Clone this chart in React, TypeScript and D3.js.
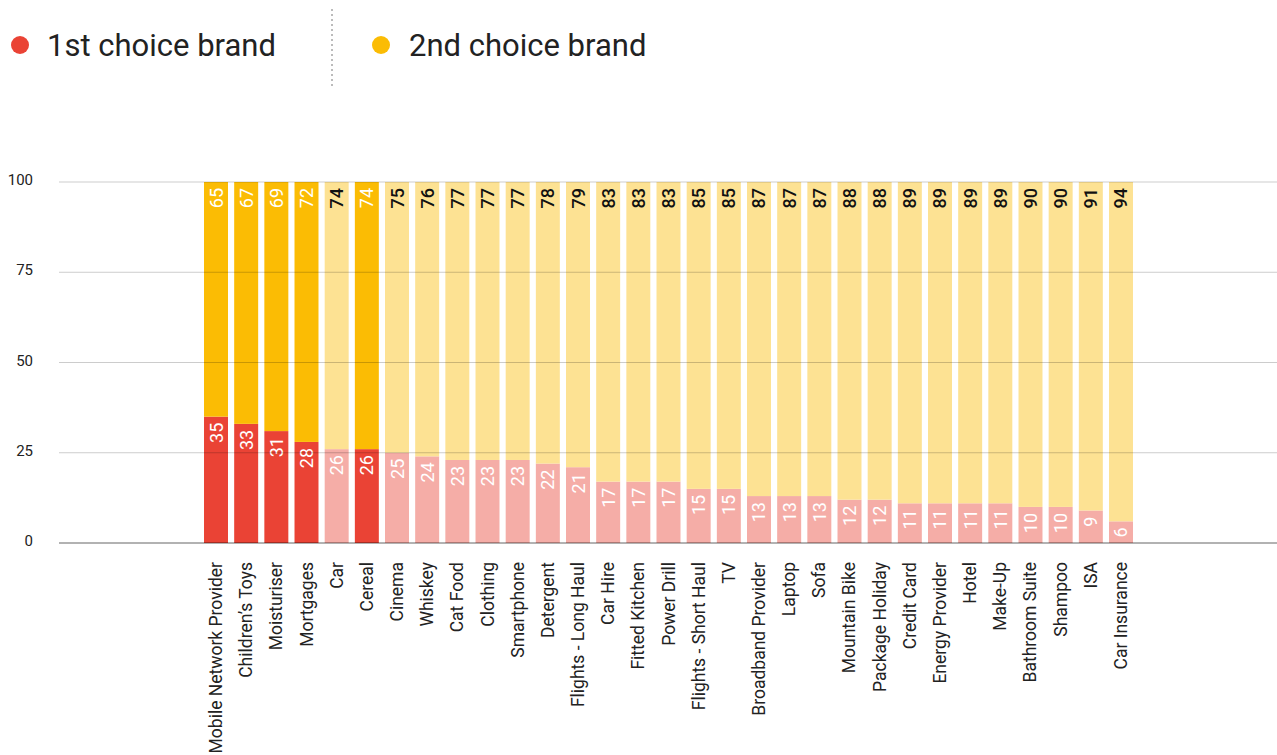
import React from "react";
import * as d3 from "d3";

const categories = [
  "Mobile Network Provider", "Children’s Toys", "Moisturiser", "Mortgages", "Car", "Cereal",
  "Cinema", "Whiskey", "Cat Food", "Clothing", "Smartphone", "Detergent", "Flights - Long Haul",
  "Car Hire", "Fitted Kitchen", "Power Drill", "Flights - Short Haul", "TV", "Broadband Provider",
  "Laptop", "Sofa", "Mountain Bike", "Package Holiday", "Credit Card", "Energy Provider", "Hotel",
  "Make-Up", "Bathroom Suite", "Shampoo", "ISA", "Car Insurance",
];
const firstChoice = [35, 33, 31, 28, 26, 26, 25, 24, 23, 23, 23, 22, 21, 17, 17, 17, 15, 15, 13, 13, 13, 12, 12, 11, 11, 11, 11, 10, 10, 9, 6];
const secondChoice = [65, 67, 69, 72, 74, 74, 75, 76, 77, 77, 77, 78, 79, 83, 83, 83, 85, 85, 87, 87, 87, 88, 88, 89, 89, 89, 89, 90, 90, 91, 94];
const highlighted = ["Mobile Network Provider", "Children’s Toys", "Moisturiser", "Mortgages", "Cereal"];
const yTicks = [0, 25, 50, 75, 100];
const seriesNames = ["1st choice brand", "2nd choice brand"];

const RED = "#EA4335";
const YELLOW = "#FBBC04";
const LRED = "#F5ADA7";
const LYELLOW = "#FDE293";
const FONT = "Roboto, 'Noto Sans', sans-serif";

export default function App() {
  const W = 1277, H = 755;
  const x = d3.scaleBand<string>().domain(categories).range([201, 1136]).paddingInner(0.205).paddingOuter(0.1);
  const y = d3.scaleLinear().domain([0, 100]).range([543, 182]);
  const bw = x.bandwidth();

  return (
    <div style={{ position: "absolute", left: 0, top: 0 }}>
      <svg width={W} height={H} style={{ display: "block", fontFamily: FONT }}>
        <rect width={W} height={H} fill="#fff" />
        {/* legend */}
        <circle cx={20} cy={45} r={9} fill={RED} />
        <text x={47} y={56} fontSize={31} fill="#222">{seriesNames[0]}</text>
        <line x1={332} x2={332} y1={9} y2={89} stroke="#bbb" strokeWidth={2} strokeDasharray="2,3" />
        <circle cx={381} cy={45} r={9} fill={YELLOW} />
        <text x={409} y={56} fontSize={31} fill="#222">{seriesNames[1]}</text>

        {/* bars */}
        {categories.map((c, i) => {
          const hl = highlighted.includes(c);
          const x0 = x(c)!;
          const cx = x0 + bw / 2;
          const a = firstChoice[i];
          const b = secondChoice[i];
          const yA = y(a);
          const yB = y(a + b);
          return (
            <g key={c}>
              <rect x={x0} y={yA} width={bw} height={y(0) - yA} fill={hl ? RED : LRED} />
              <rect x={x0} y={yB} width={bw} height={yA - yB} fill={hl ? YELLOW : LYELLOW} />
              <text transform={`translate(${cx},${yA + 6}) rotate(-90)`} textAnchor="end" dominantBaseline="central"
                fontSize={18} fill="#fff">{a}</text>
              <text transform={`translate(${cx},${yB + 6}) rotate(-90)`} textAnchor="end" dominantBaseline="central"
                fontSize={18} fill={hl ? "#fff" : "#111"} fontWeight={hl ? 400 : 500}>{b}</text>
            </g>
          );
        })}

        {/* gridlines on top */}
        {yTicks.map((t) => (
          <g key={t}>
            <line x1={59} x2={W} y1={y(t)} y2={y(t)} stroke="#000" strokeOpacity={t === 0 ? 0.3 : 0.2} strokeWidth={t === 0 ? 2 : 1} />
            <text x={33} y={y(t) - 2} textAnchor="end" dominantBaseline="central" fontSize={15} fill="#222">{t}</text>
          </g>
        ))}

        {/* x labels */}
        {categories.map((c) => (
          <text key={c} transform={`translate(${x(c)! + bw / 2},${562}) rotate(-90)`} textAnchor="end"
            dominantBaseline="central" fontSize={17.5} fill="#222">{c}</text>
        ))}
      </svg>
    </div>
  );
}
